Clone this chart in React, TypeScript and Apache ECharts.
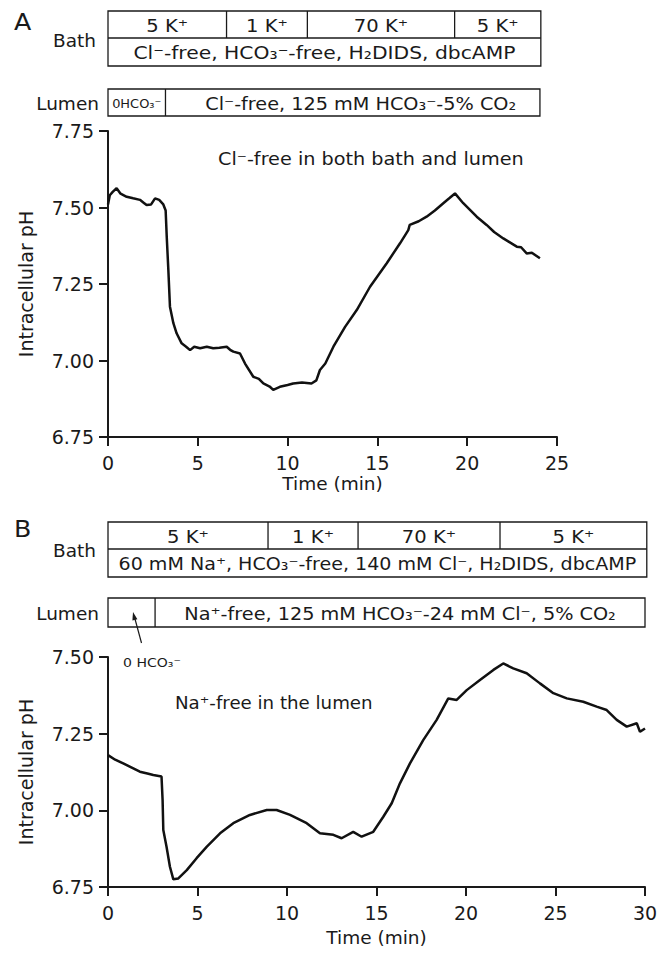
import React, { useEffect, useRef } from "react";
import * as echarts from "echarts";

const FONT = "DejaVu Sans";
const INK = "#1a1a1a";

// Panel A: Cl--free in both bath and lumen
const timeA = [0, 0.1, 0.25, 0.48, 0.7, 1.04, 1.4, 1.78, 2.0, 2.15, 2.4, 2.62, 2.85, 3.08, 3.21, 3.27, 3.36, 3.45, 3.64, 3.82, 4.1, 4.35, 4.57, 4.8, 5.13, 5.5, 5.86, 6.2, 6.61, 6.8, 6.98, 7.35, 7.63, 8.09, 8.4, 8.65, 9.0, 9.2, 9.57, 10.0, 10.31, 10.8, 11.33, 11.6, 11.8, 12.1, 12.55, 13.2, 13.85, 14.59, 15.52, 16.26, 16.72, 16.8, 17.3, 17.74, 18.2, 18.67, 19.0, 19.32, 19.78, 20.53, 21.08, 21.5, 22.01, 22.76, 23.0, 23.31, 23.6, 24.05];
const phA = [7.51, 7.54, 7.55, 7.563, 7.545, 7.535, 7.53, 7.525, 7.515, 7.508, 7.51, 7.53, 7.525, 7.51, 7.49, 7.405, 7.296, 7.176, 7.122, 7.089, 7.056, 7.045, 7.034, 7.045, 7.04, 7.045, 7.04, 7.042, 7.045, 7.035, 7.029, 7.023, 6.99, 6.947, 6.94, 6.925, 6.915, 6.904, 6.914, 6.92, 6.925, 6.928, 6.925, 6.935, 6.969, 6.99, 7.045, 7.11, 7.165, 7.241, 7.318, 7.383, 7.426, 7.443, 7.455, 7.47, 7.49, 7.514, 7.53, 7.546, 7.514, 7.47, 7.443, 7.42, 7.399, 7.372, 7.37, 7.35, 7.352, 7.334];

// Panel B: Na+-free in the lumen
const timeB = [0, 0.4, 0.85, 1.3, 1.78, 2.2, 2.53, 2.99, 3.05, 3.09, 3.27, 3.46, 3.65, 3.93, 4.4, 4.95, 5.51, 6.26, 7.0, 7.93, 8.87, 9.42, 10.17, 11.1, 11.84, 12.59, 13.05, 13.7, 14.17, 14.82, 15.38, 15.85, 16.31, 16.87, 17.61, 18.36, 19.01, 19.48, 20.04, 20.78, 21.53, 22.08, 22.64, 23.39, 24.13, 24.88, 25.63, 26.55, 27.3, 27.86, 28.42, 28.98, 29.54, 29.72, 30.0];
const phB = [7.18, 7.165, 7.153, 7.14, 7.126, 7.12, 7.115, 7.11, 7.034, 6.936, 6.881, 6.816, 6.775, 6.778, 6.805, 6.844, 6.881, 6.925, 6.958, 6.985, 7.001, 7.001, 6.985, 6.958, 6.925, 6.92, 6.909, 6.93, 6.914, 6.93, 6.979, 7.023, 7.088, 7.153, 7.229, 7.295, 7.365, 7.36, 7.392, 7.425, 7.458, 7.479, 7.463, 7.447, 7.414, 7.382, 7.365, 7.354, 7.338, 7.327, 7.295, 7.273, 7.284, 7.256, 7.267];

// Axis ranges
const xRangeA = [0, 25];
const xRangeB = [0, 30];
const yRangeA = [6.75, 7.75];
const yRangeB = [6.75, 7.5];
const xStep = 5;
const yStep = 0.25;

// Solution bars (edges in minutes)
const bathEdgesA = [0, 6.6, 11.1, 19.3, 24.1];
const bathLabelsA = ["5 K⁺", "1 K⁺", "70 K⁺", "5 K⁺"];
const bathNoteA = "Cl⁻-free, HCO₃⁻-free, H₂DIDS, dbcAMP";
const lumenEdgesA = [0, 3.2, 24.05];
const lumenLabelsA = ["0HCO₃⁻", "Cl⁻-free, 125 mM HCO₃⁻-5% CO₂"];

const bathEdgesB = [0, 8.94, 13.97, 21.9, 30.1];
const bathLabelsB = ["5 K⁺", "1 K⁺", "70 K⁺", "5 K⁺"];
const bathNoteB = "60 mM Na⁺, HCO₃⁻-free, 140 mM Cl⁻, H₂DIDS, dbcAMP";
const lumenEdgesB = [0, 2.63, 30.0];
const lumenLabelsB = ["", "Na⁺-free, 125 mM HCO₃⁻-24 mM Cl⁻, 5% CO₂"];

const zip = (xs: number[], ys: number[]) => xs.map((x, i) => [x, ys[i]]);

function xAxisCfg(grid: number, range: number[], gap: number) {
  return {
    type: "value",
    gridIndex: grid,
    min: range[0],
    max: range[1],
    interval: xStep,
    name: "Time (min)",
    nameLocation: "middle",
    nameGap: gap,
    nameTextStyle: { fontFamily: FONT, fontSize: 18.5, color: INK },
    axisLine: { show: true, onZero: false, lineStyle: { color: INK, width: 2 } },
    axisTick: { show: true, length: 9, lineStyle: { color: INK, width: 2 } },
    axisLabel: { fontFamily: FONT, fontSize: 19, color: INK, margin: 16 },
    splitLine: { show: false },
  };
}

function yAxisCfg(grid: number, range: number[]) {
  return {
    type: "value",
    gridIndex: grid,
    min: range[0],
    max: range[1],
    interval: yStep,
    name: "Intracellular pH",
    nameLocation: "middle",
    nameGap: 73,
    nameTextStyle: { fontFamily: FONT, fontSize: 19, color: INK },
    axisLine: { show: true, onZero: false, lineStyle: { color: INK, width: 2 } },
    axisTick: { show: true, length: 9, lineStyle: { color: INK, width: 2 } },
    axisLabel: {
      fontFamily: FONT,
      fontSize: 19,
      color: INK,
      margin: 14,
      formatter: (v: number) => v.toFixed(2),
    },
    splitLine: { show: false },
  };
}

function txt(x: number, y: number, text: string, size: number, align = "center", sx = 1.12) {
  return {
    type: "text",
    x,
    y,
    scaleX: sx,
    silent: true,
    style: {
      text,
      fill: INK,
      fontFamily: FONT,
      fontSize: size,
      align,
      verticalAlign: "middle",
    },
  };
}

function solutionBars(
  chart: any,
  xi: number,
  bathEdges: number[],
  bathLabels: string[],
  bathNote: string,
  noteScale: number,
  lumenEdges: number[],
  lumenLabels: string[],
  lumenShift: number,
  yTop: number,
  yMid: number,
  yBot: number,
  lTop: number,
  lBot: number
) {
  const px = (t: number) => chart.convertToPixel({ xAxisIndex: xi }, t) as number;
  const els: any[] = [];
  const stroke = { stroke: INK, lineWidth: 1.3, fill: "none" };
  const b0 = px(bathEdges[0]);
  const b1 = px(bathEdges[bathEdges.length - 1]);
  els.push({ type: "rect", silent: true, shape: { x: b0, y: yTop, width: b1 - b0, height: yBot - yTop }, style: stroke });
  els.push({ type: "line", silent: true, shape: { x1: b0, y1: yMid, x2: b1, y2: yMid }, style: stroke });
  for (let i = 1; i < bathEdges.length - 1; i++) {
    const x = px(bathEdges[i]);
    els.push({ type: "line", silent: true, shape: { x1: x, y1: yTop, x2: x, y2: yMid }, style: stroke });
  }
  bathLabels.forEach((l, i) => {
    const cx = (px(bathEdges[i]) + px(bathEdges[i + 1])) / 2;
    els.push(txt(cx, (yTop + yMid) / 2 + 1, l, 17.5));
  });
  els.push(txt((b0 + b1) / 2, (yMid + yBot) / 2 + 1, bathNote, 17.5, "center", noteScale));

  const l0 = px(lumenEdges[0]);
  const l1 = px(lumenEdges[lumenEdges.length - 1]);
  els.push({ type: "rect", silent: true, shape: { x: l0, y: lTop, width: l1 - l0, height: lBot - lTop }, style: stroke });
  for (let i = 1; i < lumenEdges.length - 1; i++) {
    const x = px(lumenEdges[i]);
    els.push({ type: "line", silent: true, shape: { x1: x, y1: lTop, x2: x, y2: lBot }, style: stroke });
  }
  lumenLabels.forEach((l, i) => {
    if (!l) return;
    const small = i === 0;
    const cx = (px(lumenEdges[i]) + px(lumenEdges[i + 1])) / 2 + (small ? 0 : lumenShift);
    els.push(txt(cx, (lTop + lBot) / 2 + 1, l, small ? 12 : 17.5, "center", small ? 1.08 : 1.1));
  });
  return els;
}

export default function App() {
  const ref = useRef<HTMLDivElement>(null);
  useEffect(() => {
    const chart = echarts.init(ref.current!, null, { renderer: "svg" });
    chart.setOption({
      animation: false,
      backgroundColor: "#ffffff",
      grid: [
        { left: 108, top: 131, width: 449, height: 306 },
        { left: 108, top: 657, width: 537, height: 230 },
      ],
      xAxis: [xAxisCfg(0, xRangeA, 37), xAxisCfg(1, xRangeB, 41)],
      yAxis: [yAxisCfg(0, yRangeA), yAxisCfg(1, yRangeB)],
      series: [
        {
          type: "line",
          xAxisIndex: 0,
          yAxisIndex: 0,
          data: zip(timeA, phA),
          showSymbol: false,
          lineStyle: { color: "#111", width: 2.5 },
          silent: true,
        },
        {
          type: "line",
          xAxisIndex: 1,
          yAxisIndex: 1,
          data: zip(timeB, phB),
          showSymbol: false,
          lineStyle: { color: "#111", width: 2.5 },
          silent: true,
        },
      ],
    });

    const graphics: any[] = [
      txt(14, 22, "A", 23, "left", 1.1),
      txt(96, 40, "Bath", 18.5, "right", 1),
      txt(99, 103, "Lumen", 18.5, "right", 1),
      txt(218, 159, "Cl⁻-free in both bath and lumen", 17.5, "left", 1.1),
      ...solutionBars(chart, 0, bathEdgesA, bathLabelsA, bathNoteA, 1.16, lumenEdgesA, lumenLabelsA, 8, 11, 38, 66, 89, 116),
      txt(14, 529, "B", 23, "left", 1.1),
      txt(96, 550, "Bath", 18.5, "right", 1),
      txt(99, 613, "Lumen", 18.5, "right", 1),
      txt(175, 703, "Na⁺-free in the lumen", 17.5, "left", 1.04),
      ...solutionBars(chart, 1, bathEdgesB, bathLabelsB, bathNoteB, 1.09, lumenEdgesB, lumenLabelsB, 0, 522, 549, 577, 598, 627),
      {
        type: "line",
        silent: true,
        shape: { x1: 141.5, y1: 643, x2: 135, y2: 619 },
        style: { stroke: INK, lineWidth: 1.2 },
      },
      {
        type: "polygon",
        silent: true,
        shape: { points: [[133, 612], [137.4, 619.2], [132.4, 620.5]] },
        style: { fill: INK },
      },
      txt(123, 662, "0 HCO₃⁻", 13, "left", 1.08),
    ];
    chart.setOption({ graphic: graphics });
    return () => chart.dispose();
  }, []);
  return (
    <div
      ref={ref}
      style={{ position: "fixed", left: 0, top: 0, width: 667, height: 957, background: "#fff" }}
    />
  );
}
